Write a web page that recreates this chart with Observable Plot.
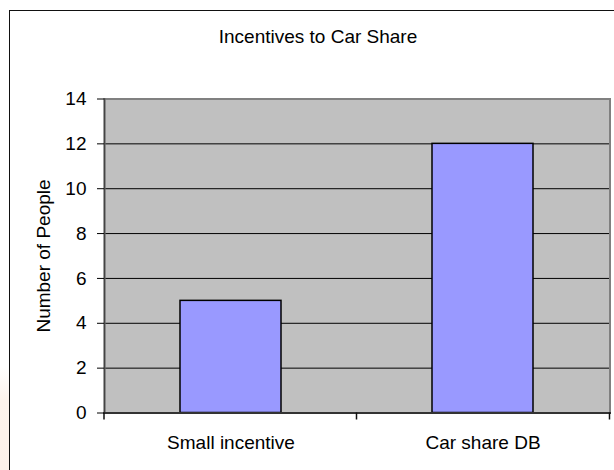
<!DOCTYPE html>
<html>
<head>
<meta charset="utf-8">
<script src="https://cdn.jsdelivr.net/npm/d3@7"></script>
<script src="https://cdn.jsdelivr.net/npm/@observablehq/plot@0.6"></script>
<style>
  html, body { margin: 0; padding: 0; width: 614px; height: 470px; overflow: hidden;
    background: linear-gradient(to bottom, #ffffff 0%, #ffffff 78%, #fdf3ec 85%, #fdf1ea 100%);
    font-family: "Liberation Sans", Arial, sans-serif; }
  #wrap { position: relative; width: 614px; height: 470px; }
  #frame { position: absolute; left: 9px; top: 10px; width: 700px; height: 600px;
    border: 1.5px solid #111; background: #fff; box-sizing: border-box; }
  #title { position: absolute; left: 0; width: 636px; top: 27px; text-align: center;
    font-size: 19px; color: #000; line-height: 19px; }
  #chart { position: absolute; left: 0; top: 0; }
</style>
</head>
<body>
<div id="wrap">
  <div id="frame"></div>
  <div id="chart"></div>
  <div id="title">Incentives to Car Share</div>
</div>
<script>
const categories = ["Small incentive", "Car share DB"];
const counts = [5, 12];
const yTicks = [0, 2, 4, 6, 8, 10, 12, 14];
const yLabel = "Number of People";

const data = categories.map((c, i) => ({category: c, count: counts[i]}));

// ticks at the category-band boundaries along the bottom axis
const boundaryTicks = Plot.ruleY([0], {
  render: (index, scales, values, dims) => {
    const x = scales.x, y = scales.y;
    const bw = x.bandwidth();
    const step = x.step ? x.step() : bw;
    const half = (step - bw) / 2;
    const xs = [dims.marginLeft];
    for (let i = 0; i < categories.length - 1; i++) {
      const a = x(categories[i]) + bw + half;
      xs.push(a);
    }
    xs.push(dims.width - dims.marginRight);
    const y0 = y(0);
    const g = d3.create("svg:g");
    for (const xv of xs) {
      g.append("line").attr("x1", xv).attr("x2", xv)
        .attr("y1", y0).attr("y2", y0 + 7)
        .attr("stroke", "#111").attr("stroke-width", 1.5);
    }
    return g.node();
  }
});

const chart = Plot.plot({
  width: 614,
  height: 470,
  marginLeft: 104,
  marginRight: 4.5,
  marginTop: 98.5,
  marginBottom: 57.5,
  style: {fontFamily: "Liberation Sans, Arial, sans-serif", fontSize: "19px", color: "#000", background: "transparent", overflow: "visible"},
  x: {domain: categories, paddingInner: 0.6, paddingOuter: 0.3, label: null},
  y: {domain: [0, 14], label: null},
  marks: [
    Plot.frame({fill: "#C0C0C0", stroke: null}),
    Plot.ruleY(yTicks.filter(t => t > 0 && t < 14), {stroke: "#000", strokeWidth: 1}),
    Plot.barY(data, {x: "category", y: "count", fill: "#9999FF", stroke: "#000", strokeWidth: 1.5}),
    Plot.frame({stroke: "#808080", strokeWidth: 2}),
    Plot.frame({anchor: "left", stroke: "#444", strokeWidth: 1.5}),
    Plot.frame({anchor: "bottom", stroke: "#333", strokeWidth: 2}),
    boundaryTicks,
    Plot.axisY({ticks: yTicks, tickSize: 7, tickPadding: 11, fontSize: 19,
      label: yLabel, labelAnchor: "center", labelArrow: "none", labelOffset: 68}),
    Plot.axisX({tickSize: 0, tickPadding: 22, fontSize: 19, label: null})
  ]
});
document.getElementById("chart").appendChild(chart);
</script>
</body>
</html>
